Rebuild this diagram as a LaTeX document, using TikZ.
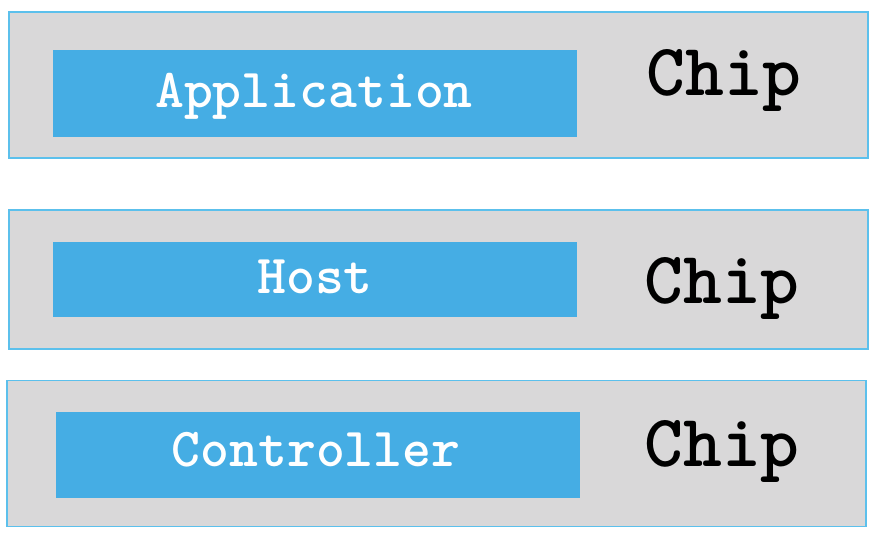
\documentclass[tikz,border=0pt]{standalone}
\usepackage{fontspec}
\setmonofont{lmmonolt10-regular.otf}[BoldFont=lmmonolt10-bold.otf]
\definecolor{chipgray}{HTML}{D9D8D9}
\definecolor{chipline}{HTML}{5CC0EC}
\definecolor{layerblue}{HTML}{45ADE4}

\begin{document}
\begin{tikzpicture}[
  x=1pt, y=-1pt,
  every node/.style={inner sep=0pt, outer sep=0pt},
  chip/.style={draw=chipline, fill=chipgray, line width=1.6pt, minimum width=859pt},
  layer/.style={fill=layerblue, minimum width=524pt},
  layerlabel/.style={anchor=base, text=white, font=\ttfamily\bfseries\fontsize{55}{55}\selectfont},
  chiplabel/.style={anchor=base, font=\ttfamily\bfseries\fontsize{74}{74}\selectfont}
]
\fill[white] (0,0) rectangle (878,538);
\useasboundingbox (0,0) rectangle (878,538);

% application chip
\node[chip, minimum height=146pt] (appchip) at (438.5,85) {};
\node[layer, minimum height=87pt] (app) at (315,93.5) {};
\node[layerlabel] (applabel) at (314,107) {Application};
\node[chiplabel] (appname) at (724,95) {Chip};

% host chip
\node[chip, minimum height=139pt] (hostchip) at (438.5,279.5) {};
\node[layer, minimum height=75pt] (host) at (315,279) {};
\node[layerlabel] (hostlabel) at (315,293) {Host};
\node[chiplabel] (hostname) at (722,303) {Chip};

% controller chip
\node[chip, minimum height=146pt] (ctrlchip) at (436.5,453.5) {};
\node[layer, minimum height=86pt] (ctrl) at (317.5,455) {};
\node[layerlabel] (ctrllabel) at (316,466) {Controller};
\node[chiplabel] (ctrlname) at (722,466) {Chip};
\end{tikzpicture}
\end{document}
